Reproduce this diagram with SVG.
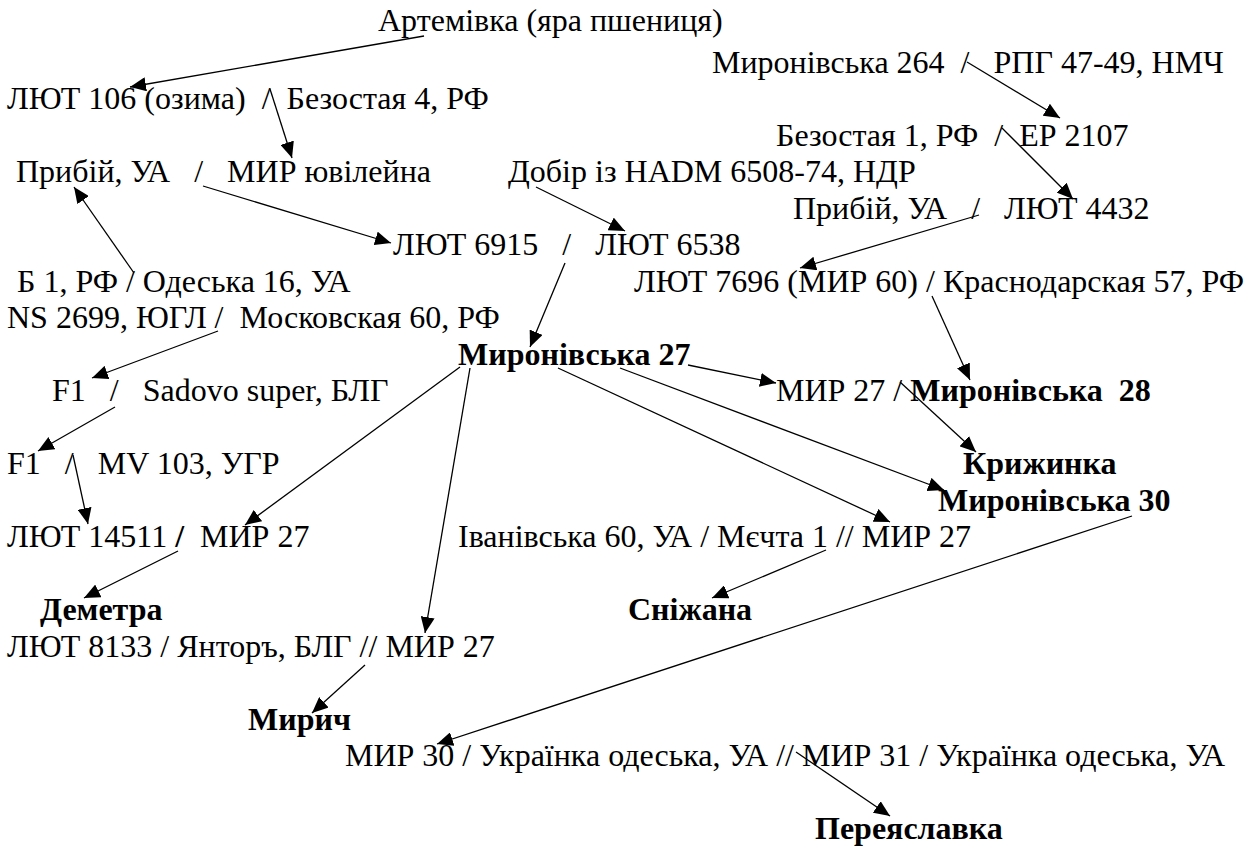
<svg xmlns="http://www.w3.org/2000/svg" width="1260" height="851" viewBox="0 0 1260 851">
<style>
text { white-space: pre; }
.b { font-weight: bold; }
.c line { stroke: #000; stroke-width: 1.3; marker-end: url(#ah); }
</style>
<defs>
<marker id="ah" viewBox="0 0 16 14" refX="16" refY="7" markerWidth="16" markerHeight="14" orient="auto" markerUnits="userSpaceOnUse"><path d="M0,0 L16,7 L0,14 z" fill="#000"/></marker>
</defs>
<rect width="1260" height="851" fill="#fff"/>
<g id="nodes" font-size="32">
<g id="n-artemivka"><text font-family="Liberation Serif" x="378" y="31">Артемівка (яра пшениця)</text></g>
<g id="n-myr264"><text font-family="Liberation Serif" x="712" y="73">Миронівська 264  /   РПГ 47-49, НМЧ</text></g>
<g id="n-lut106"><text font-family="Liberation Serif" x="7" y="109">ЛЮТ 106 (озима)  /  Безостая 4, РФ</text></g>
<g id="n-bez1"><text font-family="Liberation Serif" x="776" y="146">Безостая 1, РФ  /  ЕР 2107</text></g>
<g id="n-prybii1"><text font-family="Liberation Serif" x="16" y="182">Прибій, УА   /   МИР ювілейна</text></g>
<g id="n-dobir"><text font-family="Liberation Serif" x="508" y="182">Добір із HADM 6508-74, НДР</text></g>
<g id="n-prybii2"><text font-family="Liberation Serif" x="793" y="219">Прибій, УА   /   ЛЮТ 4432</text></g>
<g id="n-lut6915"><text font-family="Liberation Serif" x="393" y="255">ЛЮТ 6915   /   ЛЮТ 6538</text></g>
<g id="n-b1"><text font-family="Liberation Serif" x="17" y="292">Б 1, РФ / Одеська 16, УА</text></g>
<g id="n-lut7696"><text font-family="Liberation Serif" x="634" y="292">ЛЮТ 7696 (МИР 60) / Краснодарская 57, РФ</text></g>
<g id="n-ns2699"><text font-family="Liberation Serif" x="7" y="328">NS 2699, ЮГЛ /  Московская 60, РФ</text></g>
<g id="n-myr27"><text font-family="Liberation Serif" class="b" x="458" y="365">Миронівська 27</text></g>
<g id="n-f1sadovo"><text font-family="Liberation Serif" x="52" y="401">F1   /   Sadovo super, БЛГ</text></g>
<g id="n-myr28"><text font-family="Liberation Serif" x="776" y="401">МИР 27 / <tspan class="b">Миронівська  28</tspan></text></g>
<g id="n-f1mv"><text font-family="Liberation Serif" x="7" y="474">F1   /   MV 103, УГР</text></g>
<g id="n-kryzh"><text font-family="Liberation Serif" class="b" x="963" y="474">Крижинка</text></g>
<g id="n-myr30"><text font-family="Liberation Serif" class="b" x="938" y="511">Миронівська 30</text></g>
<g id="n-lut14511"><text font-family="Liberation Serif" x="7" y="547">ЛЮТ 14511 <tspan class="b">/</tspan>  МИР 27</text></g>
<g id="n-ivan"><text font-family="Liberation Serif" x="458" y="547">Іванівська 60, УА / Мєчта 1 // МИР 27</text></g>
<g id="n-demetra"><text font-family="Liberation Serif" class="b" x="40" y="620">Деметра</text></g>
<g id="n-snizh"><text font-family="Liberation Serif" class="b" x="628" y="620">Сніжана</text></g>
<g id="n-lut8133"><text font-family="Liberation Serif" x="7" y="657">ЛЮТ 8133 / Янторъ, БЛГ // МИР 27</text></g>
<g id="n-myrych"><text font-family="Liberation Serif" class="b" x="248" y="730">Мирич</text></g>
<g id="n-myr30u"><text font-family="Liberation Serif" x="345" y="766">МИР 30 / Українка одеська, УА // МИР 31 / Українка одеська, УА</text></g>
<g id="n-pereyas"><text font-family="Liberation Serif" class="b" x="815" y="839">Переяславка</text></g>
</g>
<g id="connectors" class="c">
<line x1="424" y1="36" x2="130" y2="87"/>
<line x1="270" y1="89" x2="292" y2="158"/>
<line x1="134" y1="273" x2="74" y2="187"/>
<line x1="203" y1="186" x2="391" y2="243"/>
<line x1="536" y1="187" x2="625" y2="231"/>
<line x1="565" y1="263" x2="530" y2="347"/>
<line x1="967" y1="62" x2="1060" y2="118"/>
<line x1="1002" y1="128" x2="1073" y2="199"/>
<line x1="979" y1="215" x2="800" y2="268"/>
<line x1="932" y1="296" x2="970" y2="380"/>
<line x1="218" y1="331" x2="92" y2="378"/>
<line x1="115" y1="407" x2="38" y2="451"/>
<line x1="73" y1="455" x2="88" y2="524"/>
<line x1="460" y1="367" x2="245" y2="525"/>
<line x1="470" y1="368" x2="425" y2="633"/>
<line x1="558" y1="368" x2="890" y2="522"/>
<line x1="620" y1="368" x2="944" y2="490"/>
<line x1="688" y1="365" x2="776" y2="383"/>
<line x1="900" y1="382" x2="976" y2="452"/>
<line x1="178" y1="551" x2="84" y2="598"/>
<line x1="826" y1="550" x2="712" y2="598"/>
<line x1="1132" y1="516" x2="437" y2="744"/>
<line x1="365" y1="665" x2="312" y2="713"/>
<line x1="796" y1="752" x2="890" y2="816"/>
</g>
</svg>
